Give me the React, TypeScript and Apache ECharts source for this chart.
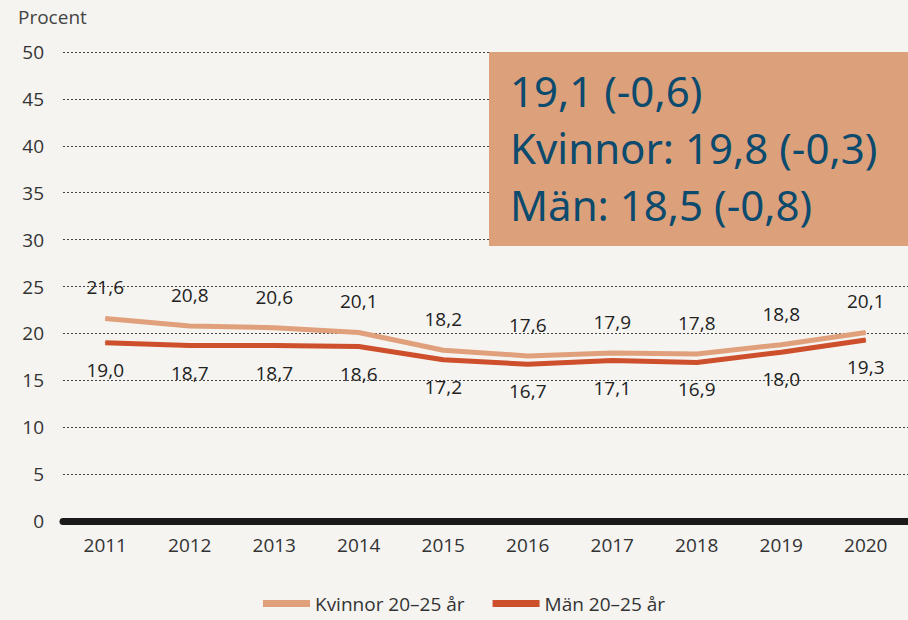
import React, { useEffect, useRef } from "react";
import * as echarts from "echarts";

const years = ["2011", "2012", "2013", "2014", "2015", "2016", "2017", "2018", "2019", "2020"];
const kvinnor = [21.6, 20.8, 20.6, 20.1, 18.2, 17.6, 17.9, 17.8, 18.8, 20.1];
const man = [19.0, 18.7, 18.7, 18.6, 17.2, 16.7, 17.1, 16.9, 18.0, 19.3];
const seriesNames = ["Kvinnor 20–25 år", "Män 20–25 år"];
const boxLines = ["19,1 (-0,6)", "Kvinnor: 19,8 (-0,3)", "Män: 18,5 (-0,8)"];

const fmt = (v: number) => v.toFixed(1).replace(".", ",");

export default function App() {
  const ref = useRef<HTMLDivElement>(null);
  useEffect(() => {
    const chart = echarts.init(ref.current!, null, { renderer: "svg" });
    const font = "'Open Sans', 'Noto Sans', sans-serif";
    const kColor = "#e0a07c";
    const mColor = "#cd4f2b";
    chart.setOption({
      animation: false,
      backgroundColor: "#f5f4f1",
      textStyle: { fontFamily: font },
      grid: { left: 63, top: 52, width: 848, height: 469, containLabel: false },
      legend: {
        top: 594,
        left: 263,
        itemWidth: 47,
        itemHeight: 7,
        itemGap: 28,
        icon: "rect",
        padding: 0,
        textStyle: { fontSize: 19, color: "#333", fontFamily: font },
        data: [
          { name: seriesNames[0], itemStyle: { color: kColor } },
          { name: seriesNames[1], itemStyle: { color: mColor } },
        ],
      },
      xAxis: {
        type: "category",
        data: years,
        boundaryGap: true,
        axisLine: { show: true, lineStyle: { color: "#1a1a1a", width: 7 } },
        axisTick: { show: false },
        axisLabel: { fontSize: 19, color: "#333", margin: 14 },
      },
      yAxis: {
        type: "value",
        min: 0,
        max: 50,
        interval: 5,
        name: "Procent",
        nameLocation: "end",
        nameGap: 26,
        nameTextStyle: { fontSize: 19, color: "#444", align: "left", padding: [0, 0, 0, -45] },
        axisLine: { show: false },
        axisTick: { show: false },
        axisLabel: { fontSize: 19, color: "#333", align: "right", margin: 19 },
        splitLine: { lineStyle: { color: "#444", type: [2, 2], width: 1 } },
      },
      series: [
        {
          name: seriesNames[0],
          type: "line",
          data: kvinnor,
          symbol: "circle",
          symbolSize: 1,
          lineStyle: { color: kColor, width: 5 },
          itemStyle: { color: kColor },
          label: {
            show: true,
            position: "top",
            distance: 21,
            fontSize: 19,
            color: "#222",
            formatter: (p: any) => fmt(p.value),
          },
          z: 3,
        },
        {
          name: seriesNames[1],
          type: "line",
          data: man,
          symbol: "circle",
          symbolSize: 1,
          lineStyle: { color: mColor, width: 5 },
          itemStyle: { color: mColor },
          label: {
            show: true,
            position: "bottom",
            distance: 17,
            fontSize: 19,
            color: "#222",
            formatter: (p: any) => fmt(p.value),
          },
          z: 4,
        },
      ],
      graphic: [
        {
          type: "rect",
          shape: { x: 489, y: 52, width: 419, height: 194 },
          style: { fill: "#dca17a" },
          z: 10,
        },
        ...boxLines.map((t, i) => ({
          type: "text",
          x: 510,
          y: 90 + i * 57,
          style: {
            text: t,
            fill: "#0c4a6e",
            font: "42px 'Noto Sans', sans-serif",
            textVerticalAlign: "middle",
          },
          z: 11,
        })),
      ],
    });
    return () => chart.dispose();
  }, []);
  return <div ref={ref} style={{ width: 908, height: 620, position: "fixed", left: 0, top: 0 }} />;
}
